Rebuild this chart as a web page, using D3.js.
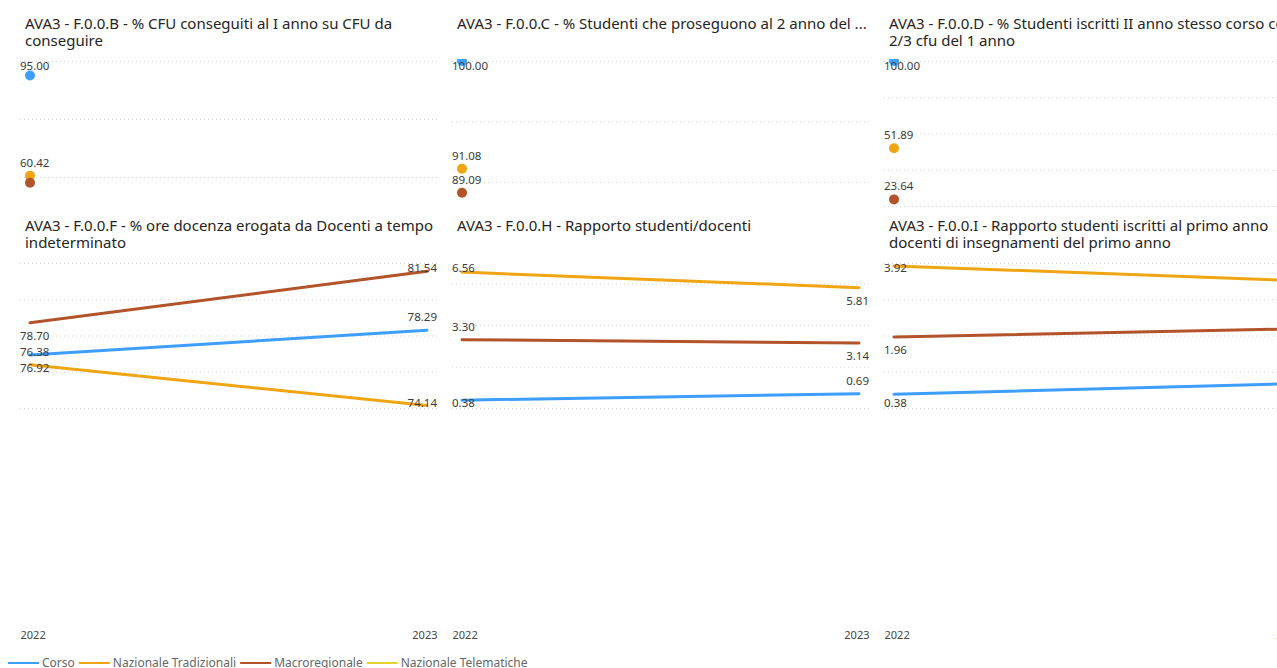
<!DOCTYPE html>
<html>
<head>
<meta charset="utf-8">
<script src="https://cdn.jsdelivr.net/npm/d3@7"></script>
<style>
  html, body { margin: 0; padding: 0; background: #fff; overflow: hidden; }
  svg { display: block; }
  text { font-family: "Segoe UI", "Noto Sans", "Open Sans", sans-serif; }
</style>
</head>
<body>
<svg id="chart"></svg>
<script>
// Years on the category axis
const years = ["2022", "2023"];

// Series (legend order)
const seriesNames = ["Corso", "Nazionale Tradizionali", "Macroregionale", "Nazionale Telematiche"];
const seriesColors = ["#3D9EFF", "#EFA514", "#B2532A", "#E3D42E"];

// Indicator titles, one entry per small multiple (already split into lines)
const panelTitles = [
  ["AVA3 - F.0.0.B - % CFU conseguiti al I anno su CFU da", "conseguire"],
  ["AVA3 - F.0.0.C - % Studenti che proseguono al 2 anno del ..."],
  ["AVA3 - F.0.0.D - % Studenti iscritti II anno stesso corso con almeno", "2/3 cfu del 1 anno"],
  ["AVA3 - F.0.0.F - % ore docenza erogata da Docenti a tempo", "indeterminato"],
  ["AVA3 - F.0.0.H - Rapporto studenti/docenti"],
  ["AVA3 - F.0.0.I - Rapporto studenti iscritti al primo anno", "docenti di insegnamenti del primo anno"]
];

// Values per indicator: [2022, 2023]
const corso                 = [[95.00, null], [100.00, null], [100.00, null], [76.92, 78.29], [0.38, 0.69], [0.38, 0.67]];
const nazionaleTradizionali = [[60.42, null], [91.08, null],  [51.89, null],  [76.38, 74.14], [6.56, 5.81], [3.92, 3.52]];
const macroregionale        = [[58.00, null], [89.09, null],  [23.64, null],  [78.70, 81.54], [3.30, 3.14], [1.96, 2.18]];
const nazionaleTelematiche  = [[null, null],  [null, null],   [null, null],   [null, null],   [null, null], [null, null]];

// Value axis of each indicator
const yDomains = [[50, 100], [88, 100], [20, 100], [74, 82], [0, 7], [0, 4]];
const yTicks = [[60, 80, 100], [90, 95, 100], [20, 40, 60, 80, 100], [74, 76, 78, 80, 82], [0, 2, 4, 6], [0, 1, 2, 3, 4]];

const seriesValues = [corso, nazionaleTradizionali, macroregionale, nazionaleTelematiche];

// ---- layout ----
const W = 1320, H = 668;
const colX0 = 20, colStep = 432, plotW = 417, inset = 10;
const rowY0 = 61, rowStep = 202, plotH = 145;
const nCols = 3;
const axisLabelY = 635;

const svg = d3.select("#chart").attr("width", W).attr("height", H);

const fmt = d3.format(".2f");
const labelFont = 11.5;

function measure(str, size) {
  const t = svg.append("text").attr("font-size", size).text(str);
  const w = t.node().getComputedTextLength();
  t.remove();
  return w;
}

panelTitles.forEach((title, p) => {
  const col = p % nCols, row = Math.floor(p / nCols);
  const left = colX0 + col * colStep, right = left + plotW;
  const top = rowY0 + row * rowStep, bottom = top + plotH;

  const x = d3.scalePoint().domain(years).range([left + inset, right - inset]);
  const y = d3.scaleLinear().domain(yDomains[p]).range([bottom, top]);

  const g = svg.append("g");

  // title
  const tt = g.append("text").attr("font-size", 15).attr("fill", "#252423");
  title.forEach((line, i) => {
    tt.append("tspan").attr("x", left + 5).attr("y", top - 32 + i * 16.5).text(line);
  });

  // dotted gridlines from the value axis
  const grid = g.append("g").attr("transform", `translate(${left},0)`)
    .call(d3.axisLeft(y).tickValues(yTicks[p]).tickSize(-plotW).tickFormat(""));
  grid.select(".domain").remove();
  grid.selectAll(".tick line")
    .attr("stroke", "#d4d4d4").attr("stroke-width", 1).attr("stroke-dasharray", "1,3");

  // clip marks to the plot cell
  const clipId = "clip" + p;
  svg.append("clipPath").attr("id", clipId)
    .append("rect").attr("x", left - 2).attr("y", top - 2).attr("width", plotW + 4).attr("height", plotH + 4);
  const marks = g.append("g").attr("clip-path", `url(#${clipId})`);

  const line = d3.line()
    .defined(d => d.v !== null)
    .x(d => x(d.year)).y(d => y(d.v));

  const series = seriesValues.map((vals, s) => ({
    s, pts: years.map((yr, i) => ({ year: yr, i, v: vals[p][i] }))
  }));

  series.forEach(({ s, pts }) => {
    const valid = pts.filter(d => d.v !== null);
    if (valid.length > 1) {
      marks.append("path").datum(pts)
        .attr("fill", "none").attr("stroke", seriesColors[s])
        .attr("stroke-width", 3).attr("stroke-linecap", "round")
        .attr("d", line);
    } else if (valid.length === 1) {
      marks.append("circle")
        .attr("cx", x(valid[0].year)).attr("cy", y(valid[0].v))
        .attr("r", 5).attr("fill", seriesColors[s]);
    }
  });

  // data labels: placed away from the adjacent segment, hidden on collision
  const labelLayer = g.append("g");
  years.forEach((yr, i) => {
    const placed = [];
    series.forEach(({ s, pts }) => {
      const d = pts[i];
      if (d.v === null) return;
      const other = pts[1 - i];
      let above = true;
      if (other && other.v !== null) {
        const rising = pts[1].v > pts[0].v;
        above = (i === 0) ? !rising : rising;
      }
      let cy = y(d.v) + (above ? -13 : 13);
      cy = Math.max(top + 4.5, Math.min(bottom - 5, cy));
      if (placed.some(py => Math.abs(py - cy) < 11)) return;
      placed.push(cy);
      const txt = fmt(d.v);
      const w = measure(txt, labelFont);
      let cx = x(yr);
      cx = Math.max(left + w / 2, Math.min(right - w / 2, cx));
      labelLayer.append("text")
        .attr("x", cx).attr("y", cy).attr("dy", "0.35em")
        .attr("text-anchor", "middle")
        .attr("font-size", labelFont).attr("fill", "#3a3a3a")
        .text(txt);
    });
  });

  // category axis on the bottom of the grid
  if (row === 1) {
    const ax = svg.append("g").attr("transform", `translate(0,${axisLabelY})`)
      .call(d3.axisBottom(x).tickSize(0).tickPadding(0));
    ax.select(".domain").remove();
    ax.selectAll(".tick text")
      .attr("font-size", 11).attr("fill", "#444").attr("dy", "0.35em")
      .attr("font-family", null)
      .each(function (d) {
        const w = this.getComputedTextLength();
        const cx = x(d);
        const shift = Math.max(left + w / 2, Math.min(right - w / 2, cx)) - cx;
        d3.select(this).attr("x", shift);
      });
  }
});

// legend
const legendY = 663;
let lx = 8;
const legend = svg.append("g");
seriesNames.forEach((name, s) => {
  legend.append("line")
    .attr("x1", lx).attr("x2", lx + 31).attr("y1", legendY).attr("y2", legendY)
    .attr("stroke", seriesColors[s]).attr("stroke-width", 2);
  lx += 34;
  const t = legend.append("text")
    .attr("x", lx).attr("y", legendY).attr("dy", "0.35em")
    .attr("font-size", 12).attr("fill", "#666").text(name);
  lx += t.node().getComputedTextLength() + 4;
});
</script>
</body>
</html>
